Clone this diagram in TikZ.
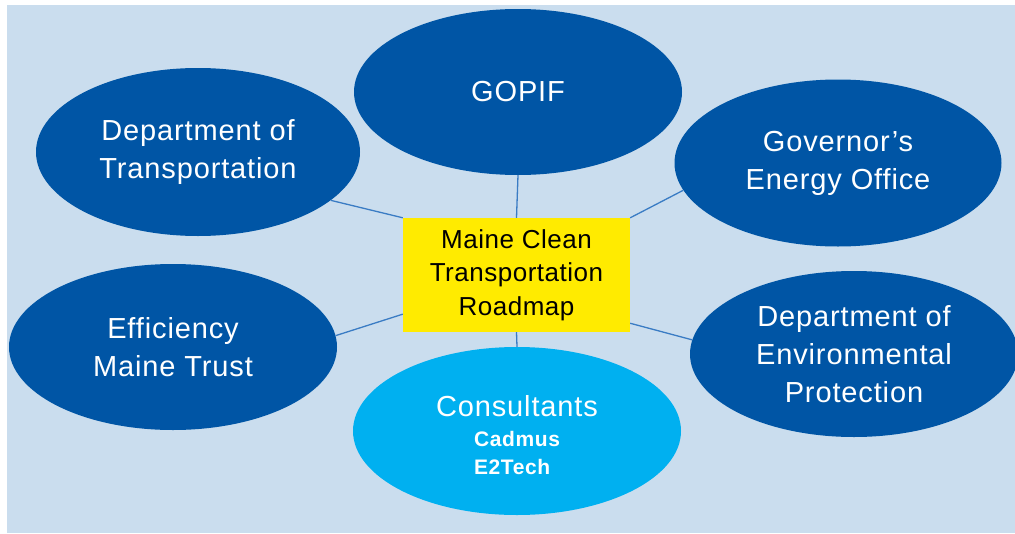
\documentclass[tikz,border=0pt]{standalone}
\usepackage{fontspec}
\setmainfont{Liberation Sans}
\newfontfamily\bubblefont[LetterSpace=3]{Liberation Sans}
\newfontfamily\hubfont[LetterSpace=2]{Liberation Sans}
\usetikzlibrary{shapes.geometric}
\definecolor{backdrop}{HTML}{CADDEE}
\definecolor{deepblue}{HTML}{0055A5}
\definecolor{skyblue}{HTML}{00B0F0}
\definecolor{signyellow}{HTML}{FFEB00}
\definecolor{linkblue}{HTML}{3A7CC4}

\tikzset{
  bubble/.style={ellipse,fill=deepblue,text=white,inner sep=0pt,
                 minimum width=328pt,minimum height=166pt,align=center,
                 font=\bubblefont\fontsize{29}{38}\selectfont},
  hubbox/.style={rectangle,fill=signyellow,text=black,inner sep=0pt,
                 minimum width=227pt,minimum height=114pt,align=center,
                 font=\hubfont\fontsize{26}{33.5}\selectfont},
  link/.style={draw=linkblue,line width=1.3pt}
}

\begin{document}
\begin{tikzpicture}[x=1pt,y=-1pt]
  \useasboundingbox (0,0) rectangle (1015,533);
  \fill[backdrop] (7,5) rectangle (1015,533);

  \node[hubbox] (hub) at (516.5,275) {Maine Clean\\Transportation\\Roadmap};

  \node[bubble] (gopif) at (518,92) {GOPIF};
  \node[bubble,minimum width=324pt,minimum height=168pt] (dot) at (198,152)
       {Department of\\Transportation};
  \node[bubble,minimum width=327pt,minimum height=167pt] (geo) at (838,163)
       {Governor’s\\Energy Office};
  \node[bubble] (emt) at (173,347) {Efficiency\\Maine Trust};
  \node[bubble] (dep) at (854,354) {Department of\\Environmental\\Protection};
  \node[bubble,fill=skyblue,minimum height=168pt] (cons) at (517,431)
       {\rule{0pt}{38pt}Consultants\\[-8pt]{\bfseries\fontsize{21}{28}\selectfont
        \begin{tabular}[t]{@{}l@{}}Cadmus\\E2Tech\end{tabular}}};

  % spokes from the roadmap box
  \draw[link] (hub.north west) -- (dot.-20);
  \draw[link] (hub.north) -- (gopif.south);
  \draw[link] (hub.north east) -- (geo.190);
  \draw[link] (hub.199) -- (emt.4);
  \draw[link] (hub.-23) -- (dep.175);
  \draw[link] (hub.south) -- (cons.north);
\end{tikzpicture}
\end{document}
